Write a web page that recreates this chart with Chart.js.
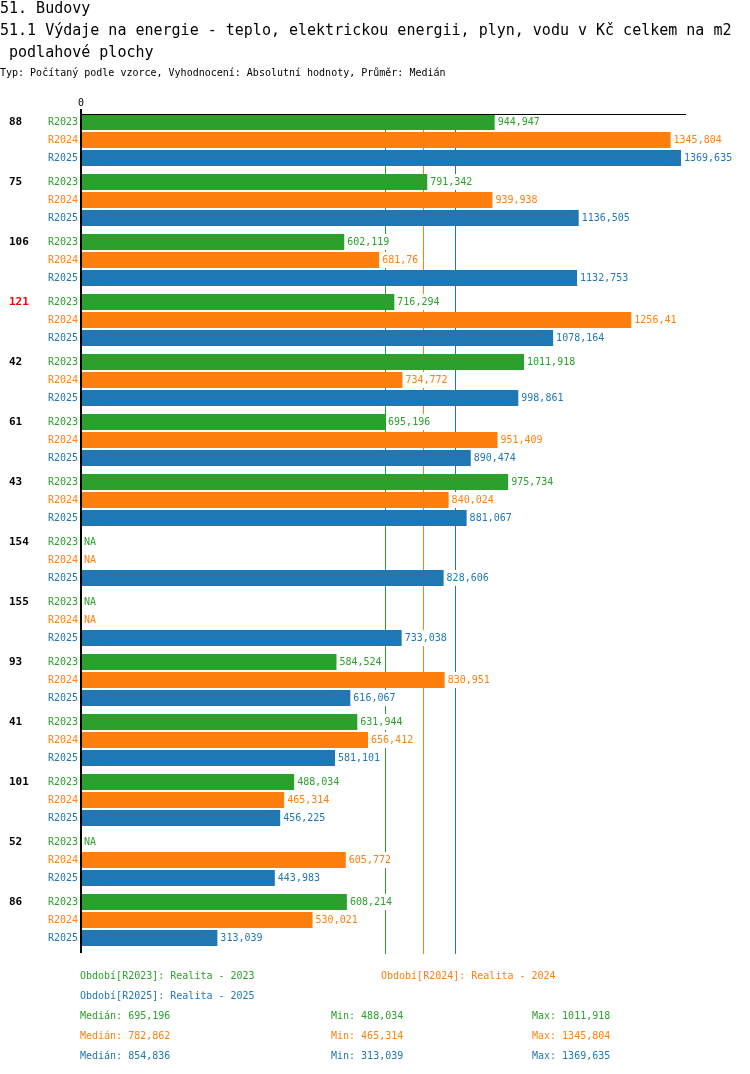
<!DOCTYPE html>
<html>
<head>
<meta charset="utf-8">
<script src="https://cdn.jsdelivr.net/npm/chart.js@4/dist/chart.umd.min.js"></script>
<style>
  html, body { margin: 0; padding: 0; background: #fff; }
  body { width: 750px; height: 1074px; position: relative; overflow: hidden; font-family: "DejaVu Sans Mono", monospace; }
  #wrap { position: absolute; left: 0; top: 0; width: 750px; height: 1074px; }
  .t { position: absolute; white-space: pre; }
</style>
</head>
<body>
<div id="wrap"><canvas id="c"></canvas></div>
<div id="texts"></div>
<script>
// ---- data ----
const categories = ['88', '75', '106', '121', '42', '61', '43', '154', '155', '93', '41', '101', '52', '86'];
const highlighted = ['121'];
const seriesNames = ['R2023', 'R2024', 'R2025'];
const periodNames = ['Realita - 2023', 'Realita - 2024', 'Realita - 2025'];
const r2023 = [944.947, 791.342, 602.119, 716.294, 1011.918, 695.196, 975.734, null, null, 584.524, 631.944, 488.034, null, 608.214];
const r2024 = [1345.804, 939.938, 681.76, 1256.41, 734.772, 951.409, 840.024, null, null, 830.951, 656.412, 465.314, 605.772, 530.021];
const r2025 = [1369.635, 1136.505, 1132.753, 1078.164, 998.861, 890.474, 881.067, 828.606, 733.038, 616.067, 581.101, 456.225, 443.983, 313.039];
const medians = [695.196, 782.862, 854.836];
const xTicks = [0];
const xMax = 1381;

const seriesValues = [r2023, r2024, r2025];
const colors = ['#2ca02c', '#ff7f0e', '#1f77b4'];
const FONT = '"DejaVu Sans Mono", monospace';

function fmt(v) { return String(+v.toFixed(3)).replace('.', ','); }

// ---- html texts ----
const textsEl = document.getElementById('texts');
function addText(str, x, cy, size, color, extra) {
  const d = document.createElement('div');
  d.className = 't';
  d.textContent = str;
  const lh = Math.round(size * 1.2);
  d.style.cssText = `left:${x}px;top:${cy - lh / 2}px;font-size:${size}px;line-height:${lh}px;color:${color};` + (extra || '');
  textsEl.appendChild(d);
}
addText('51. Budovy', 0, 8, 15, '#000');
addText('51.1 Výdaje na energie - teplo, elektrickou energii, plyn, vodu v Kč celkem na m2', 0, 30, 15, '#000');
addText(' podlahové plochy', 0, 52, 15, '#000');
addText('Typ: Počítaný podle vzorce, Vyhodnocení: Absolutní hodnoty, Průměr: Medián', 0, 73, 10, '#000');

addText('Období[' + seriesNames[0] + ']: ' + periodNames[0], 80, 976, 10, colors[0]);
addText('Období[' + seriesNames[1] + ']: ' + periodNames[1], 381, 976, 10, colors[1]);
addText('Období[' + seriesNames[2] + ']: ' + periodNames[2], 80, 996, 10, colors[2]);
seriesValues.forEach((vals, i) => {
  const nn = vals.filter(v => v !== null);
  const cy = 1016 + i * 20;
  addText('Medián: ' + fmt(medians[i]), 80, cy, 10, colors[i]);
  addText('Min: ' + fmt(Math.min(...nn)), 331, cy, 10, colors[i]);
  addText('Max: ' + fmt(Math.max(...nn)), 532, cy, 10, colors[i]);
});

// ---- chart ----
const decorPlugin = {
  id: 'decor',
  beforeDatasetsDraw(chart) {
    const ctx = chart.ctx, xs = chart.scales.x, area = chart.chartArea;
    ctx.save();
    medians.forEach((m, i) => {
      const x = Math.floor(xs.getPixelForValue(m));
      ctx.fillStyle = colors[i];
      ctx.fillRect(x, area.top + 4, 1, area.bottom - area.top);
    });
    ctx.restore();
  },
  afterDatasetsDraw(chart) {
    const ctx = chart.ctx, xs = chart.scales.x, area = chart.chartArea;
    ctx.save();
    ctx.fillStyle = '#000';
    ctx.font = '10px ' + FONT;
    ctx.textAlign = 'center';
    ctx.textBaseline = 'middle';
    xTicks.forEach(t => ctx.fillText(String(t), xs.getPixelForValue(t) + 1, area.top - 7));

    seriesValues.forEach((vals, i) => {
      const meta = chart.getDatasetMeta(i);
      vals.forEach((v, j) => {
        const bar = meta.data[j];
        const y = bar.y;
        ctx.font = '10px ' + FONT;
        ctx.textBaseline = 'middle';
        ctx.fillStyle = colors[i];
        ctx.textAlign = 'right';
        ctx.fillText(seriesNames[i], area.left - 2, y);
        ctx.textAlign = 'left';
        if (v === null) {
          ctx.fillText('NA', area.left + 4, y);
        } else {
          const s = fmt(v);
          const x0 = xs.getPixelForValue(v) + 3;
          const w = ctx.measureText(s).width;
          ctx.fillStyle = '#fff';
          ctx.fillRect(x0 - 1, y - 8, w + 2, 16);
          ctx.fillStyle = colors[i];
          ctx.fillText(s, x0, y);
        }
        if (i === 0) {
          ctx.font = 'bold 11px ' + FONT;
          ctx.fillStyle = highlighted.includes(categories[j]) ? '#ff0000' : '#000';
          ctx.textAlign = 'left';
          ctx.fillText(categories[j], 9, y);
        }
      });
    });
    // top line and left axis
    ctx.fillStyle = '#000';
    ctx.fillRect(area.left, area.top + 4, area.right - area.left, 1);
    ctx.fillRect(area.left, area.top - 1, 2, area.bottom - area.top + 4);
    ctx.restore();
  }
};

new Chart(document.getElementById('c'), {
  type: 'bar',
  data: {
    labels: categories,
    datasets: seriesValues.map((vals, i) => ({
      label: seriesNames[i],
      data: vals,
      backgroundColor: colors[i],
      borderWidth: 0,
      categoryPercentage: 0.9,
      barPercentage: 0.889
    }))
  },
  options: {
    indexAxis: 'y',
    responsive: true,
    maintainAspectRatio: false,
    animation: false,
    layout: { padding: { left: 80, right: 64, top: 110, bottom: 124 } },
    plugins: { legend: { display: false }, tooltip: { enabled: false } },
    scales: {
      x: { display: false, min: 0, max: xMax },
      y: { display: false }
    }
  },
  plugins: [decorPlugin]
});
</script>
</body>
</html>
